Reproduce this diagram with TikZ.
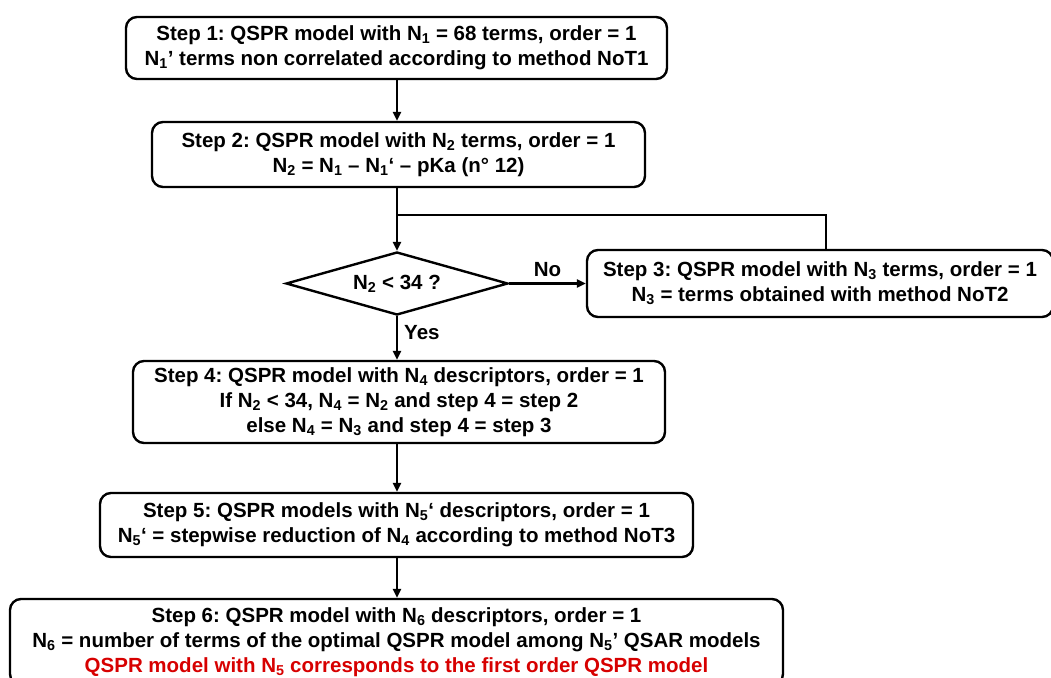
\documentclass[tikz,border=0pt]{standalone}
\usepackage{fontspec}
\setmainfont{Liberation Sans}
\usetikzlibrary{shapes.geometric,arrows.meta}
\definecolor{redtxt}{RGB}{215,0,0}
\frenchspacing
\tikzset{
  box/.style={draw=black, line width=2.4pt, rounded corners=11pt, align=center, inner sep=0pt,
    font=\fontsize{20.5}{25}\selectfont\bfseries\frenchspacing},
  dec/.style={draw=black, line width=2.4pt, shape=diamond, shape aspect=3.5, inner sep=0pt,
    minimum width=222pt, minimum height=63pt, font=\fontsize{20.5}{25}\selectfont\bfseries},
  conn/.style={line width=2.4pt, -{Triangle[length=9pt,width=8pt]}},
  lbl/.style={font=\fontsize{20.5}{25}\selectfont\bfseries, inner sep=0pt}
}
\newcommand{\sbs}[1]{\textsubscript{#1}}
\begin{document}
\begin{tikzpicture}[x=1pt,y=-1pt]
\useasboundingbox (0,0) rectangle (1051,677);
\clip (0,0) rectangle (1051,677);
\node[box, minimum width=541pt, minimum height=62pt] (b1) at (396.5,48)
  {Step 1: QSPR model with N\sbs{1} = 68 terms, order = 1\\N\sbs{1}’ terms non correlated according to method NoT1};
\node[box, minimum width=493pt, minimum height=65pt] (b2) at (398.5,154.5)
  {Step 2: QSPR model with N\sbs{2} terms, order = 1\\N\sbs{2} = N\sbs{1} – N\sbs{1}‘ – pKa (n° 12)};
\node[dec] (d) at (397,283.5) {N\sbs{2} < 34 ?};
\node[box, minimum width=466pt, minimum height=67pt] (b3) at (820,283.5)
  {Step 3: QSPR model with N\sbs{3} terms, order = 1\\N\sbs{3} = terms obtained with method NoT2};
\node[box, minimum width=532pt, minimum height=82pt] (b4) at (399,402)
  {Step 4: QSPR model with N\sbs{4} descriptors, order = 1\\If N\sbs{2} < 34, N\sbs{4} = N\sbs{2} and step 4 = step 2\\else N\sbs{4} = N\sbs{3} and step 4 = step 3};
\node[box, minimum width=593pt, minimum height=64pt] (b5) at (396.5,525)
  {Step 5: QSPR models with N\sbs{5}‘ descriptors, order = 1\\N\sbs{5}‘ = stepwise reduction of N\sbs{4} according to method NoT3};
\node[box, minimum width=773pt, minimum height=86pt] (b6) at (396.5,642)
  {Step 6: QSPR model with N\sbs{6} descriptors, order = 1\\N\sbs{6} = number of terms of the optimal QSPR model among N\sbs{5}’ QSAR models\\\textcolor{redtxt}{QSPR model with N\sbs{5} corresponds to the first order QSPR model}};
\coordinate (j) at (397,215);
\draw[conn] (b1.south -| j) -- (b2.north -| j);
\draw[conn] (b2.south -| j) -- (d.north);
\draw[line width=2.4pt] ([xshift=6pt]b3.north) |- (j);
\draw[conn] (d.east) -- (b3.west) node[lbl, midway, above=6pt] (no) {No};
\draw[conn] (d.south) -- (b4.north -| d.south) node[lbl, pos=0.38, right=6pt] (yes) {Yes};
\draw[conn] (b4.south -| j) -- (b5.north -| j);
\draw[conn] (b5.south -| j) -- (b6.north -| j);
\end{tikzpicture}
\end{document}
